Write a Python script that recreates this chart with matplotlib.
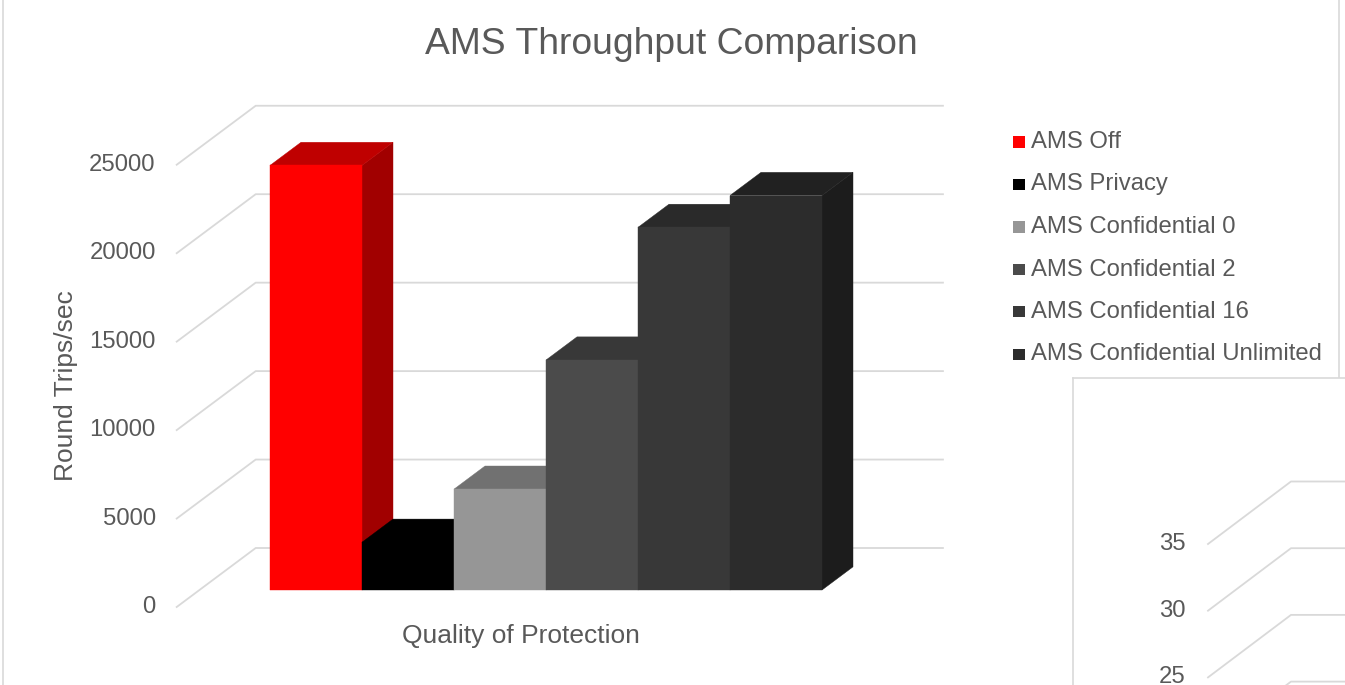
import matplotlib
matplotlib.use("Agg")
import matplotlib.pyplot as plt
import matplotlib.transforms as mtransforms
from matplotlib.patches import Polygon, Rectangle
from matplotlib.colors import to_rgb

plt.rcParams['font.family'] = ['Liberation Sans', 'DejaVu Sans']

# --- data ---
series = ["AMS Off", "AMS Privacy", "AMS Confidential 0", "AMS Confidential 2",
          "AMS Confidential 16", "AMS Confidential Unlimited"]
round_trips = [24000, 2700, 5700, 13000, 20500, 22300]
bar_colors = ["#ff0000", "#000000", "#969696", "#4b4b4b", "#383838", "#2c2c2c"]
y_ticks = [0, 5000, 10000, 15000, 20000, 25000]
inset_ticks = [20, 25, 30, 35]

TEXT = "#595959"
GRID = "#d9d9d9"
W, H = 1345, 685

# pixel layout of the 3D plot box
SLOT_PX = 92.0          # width of one column face
VAL_PX = 0.01769        # pixels per round trip
ORIGIN = (270, 590)     # front-left bottom corner of the first column
DEPTH = (79 / SLOT_PX, 59 / VAL_PX)   # floor front -> back wall
FRONT = 17 / 59         # depth of the column fronts
BAR_D = 31 / 79         # column depth
FLOOR_X0 = (176.7 - ORIGIN[0]) / SLOT_PX
FLOOR_W = 7.47


def shade(c, k):
    r, g, b = to_rgb(c)
    return (r * k, g * k, b * k)


def fpos(x, y):
    return (x / W, 1 - y / H)


fig = plt.figure(figsize=(W / 100, H / 100), dpi=100)

# chart border
fig.add_artist(Rectangle(fpos(3, 700), (1339 - 3) / W, 720 / H, transform=fig.transFigure,
                         facecolor="white", edgecolor=GRID, lw=1.2, zorder=0))

ax = fig.add_axes([0, 0, 1, 1])
ax.axis('off')
ax.set_xlim(-ORIGIN[0] / SLOT_PX, (W - ORIGIN[0]) / SLOT_PX)
ax.set_ylim(-(H - ORIGIN[1]) / VAL_PX, ORIGIN[1] / VAL_PX)

dx, dv = DEPTH
label_tr = mtransforms.offset_copy(ax.transData, fig=fig, x=-21, y=0, units='dots')
for v in y_ticks:
    v0 = v - FRONT * dv
    ax.plot([FLOOR_X0, FLOOR_X0 + dx, FLOOR_X0 + dx + FLOOR_W],
            [v0, v0 + dv, v0 + dv], color=GRID, lw=1.3, zorder=1)
    ax.text(FLOOR_X0, v0, str(v), transform=label_tr, ha='right', va='center',
            fontsize=17.2, color=TEXT)

# 3D columns, drawn left to right so each face hides the previous side
bdx, bdv = BAR_D * dx, BAR_D * dv
for i, (v, c) in enumerate(zip(round_trips, bar_colors)):
    z = 2 + i
    side = [(i + 1, 0), (i + 1 + bdx, bdv), (i + 1 + bdx, v + bdv), (i + 1, v)]
    top = [(i, v), (i + 1, v), (i + 1 + bdx, v + bdv), (i + bdx, v + bdv)]
    ax.add_patch(Polygon(side, closed=True, facecolor=shade(c, 0.63),
                         edgecolor=shade(c, 0.63), lw=0.3, zorder=z))
    ax.add_patch(Polygon(top, closed=True, facecolor=shade(c, 0.75),
                         edgecolor=shade(c, 0.75), lw=0.3, zorder=z))
    ax.add_patch(Rectangle((i, 0), 1, v, facecolor=c, edgecolor=c, lw=0.3, zorder=z))

# titles
fig.text(*fpos(671, 44), "AMS Throughput Comparison", ha='center', va='center',
         fontsize=26.8, color=TEXT)
fig.text(*fpos(66, 386), "Round Trips/sec", rotation=90, ha='center', va='center',
         fontsize=19, color=TEXT)
fig.text(*fpos(521, 636), "Quality of Protection", ha='center', va='center',
         fontsize=19, color=TEXT)

# legend
for k, (name, c) in enumerate(zip(series, bar_colors)):
    yc = 142 + k * 42.5
    fig.add_artist(Rectangle(fpos(1013.5, yc + 5.5), 12 / W, 11 / H,
                             transform=fig.transFigure, facecolor=c, lw=0))
    fig.text(*fpos(1031, yc), name, ha='left', va='center', fontsize=17.2, color=TEXT)

# second chart overlapping the lower right corner
BOX = (1073, 378)
ax2 = fig.add_axes([BOX[0] / W, 0, (W - BOX[0]) / W, (H - BOX[1]) / H])
ax2.set_facecolor("white")
ax2.set_zorder(5)
INSET_PX = 13.34
ax2.set_xlim(0, W - BOX[0])
ax2.set_ylim(35 - (H - 544) / INSET_PX, 35 + (544 - BOX[1]) / INSET_PX)
for s in ['right', 'bottom']:
    ax2.spines[s].set_visible(False)
for s in ['left', 'top']:
    ax2.spines[s].set_color(GRID)
    ax2.spines[s].set_linewidth(1.2)
ax2.set_xticks([])
ax2.set_yticks([])
rise = 62.5 / INSET_PX
for v in inset_ticks:
    ax2.plot([135, 218, 300], [v, v + rise, v + rise], color=GRID, lw=1.3)
    ax2.text(113, v, str(v), ha='right', va='center', fontsize=17.2, color=TEXT)

fig.savefig("out.png", dpi=100, facecolor="white")
